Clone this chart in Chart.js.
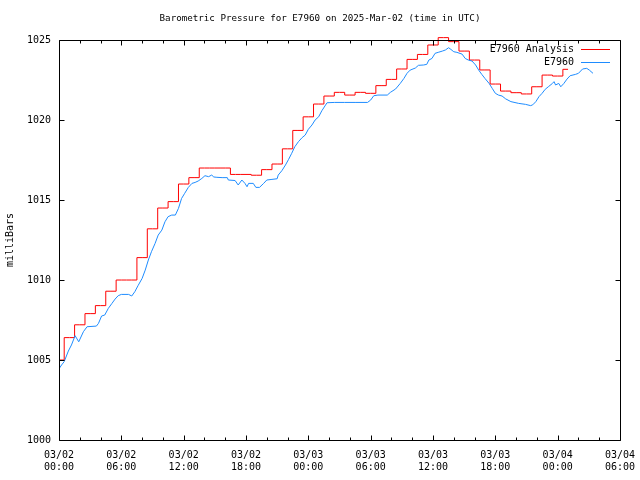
<!DOCTYPE html>
<html>
<head>
<meta charset="utf-8">
<title>Barometric Pressure for E7960</title>
<script src="https://cdn.jsdelivr.net/npm/chart.js@4.4.1/dist/chart.umd.min.js"></script>
<style>
    body { margin: 0; background: #fff; }
    #wrap { width: 640px; height: 480px; }
</style>
</head>
<body>
<div id="wrap"><canvas id="pressureChart" width="640" height="480"></canvas></div>
<script>
// hours since 2025-03-02 00:00 UTC
const analysisHours = [0, 1, 2, 3, 4, 5, 6, 7, 8, 9,
    10, 11, 12, 13, 14, 15, 16, 17, 18, 19,
    20, 21, 22, 23, 24, 25, 26, 27, 28, 29,
    30, 31, 32, 33, 34, 35, 36, 37, 38, 39,
    40, 41, 42, 43, 44, 45, 46, 47, 48, 49];
const analysisPressure = [1005.0, 1006.4, 1007.2, 1007.9, 1008.4, 1009.3, 1010.0, 1010.0, 1011.4, 1013.2,
    1014.5, 1014.9, 1016.0, 1016.4, 1017.0, 1017.0, 1017.0, 1016.6, 1016.6, 1016.55,
    1016.9, 1017.25, 1018.2, 1019.35, 1020.2, 1021.0, 1021.5, 1021.73, 1021.56, 1021.73,
    1021.67, 1022.15, 1022.54, 1023.19, 1023.79, 1024.1, 1024.69, 1025.15, 1024.9, 1024.31,
    1023.75, 1023.13, 1022.25, 1021.81, 1021.71, 1021.63, 1022.08, 1022.81, 1022.75, 1023.17];

const obsHours = [0.0, 0.25, 0.5, 0.9, 1.2, 1.55, 1.9, 2.35, 2.7, 3.6,
    3.8, 4.1, 4.4, 4.75, 5.1, 5.4, 5.7, 6.0, 6.7, 7.0,
    7.3, 7.6, 8.0, 8.3, 8.6, 8.9, 9.25, 9.55, 9.9, 10.2,
    10.5, 10.85, 11.2, 11.5, 11.8, 12.1, 12.45, 12.8, 13.1, 13.4,
    13.75, 14.05, 14.4, 14.7, 14.9, 15.2, 15.7, 16.2, 16.3, 16.95,
    17.25, 17.6, 17.9, 18.1, 18.25, 18.7, 18.95, 19.3, 19.7, 20.0,
    20.5, 21.0, 21.1, 21.45, 21.8, 22.1, 22.4, 22.7, 23.05, 23.4,
    23.7, 24.0, 24.35, 24.65, 25.0, 25.3, 25.6, 25.8, 26.5, 27.5,
    28.5, 29.7, 30.0, 30.3, 30.7, 31.6, 31.9, 32.4, 32.85, 33.2,
    33.5, 33.8, 34.3, 34.6, 35.1, 35.4, 35.6, 35.9, 36.2, 36.5,
    36.9, 37.2, 37.5, 37.65, 38.0, 38.3, 38.8, 39.1, 39.4, 39.75,
    40.1, 40.4, 40.7, 41.0, 41.4, 41.7, 42.0, 42.3, 42.65, 43.0,
    43.5, 44.25, 44.9, 45.4, 45.6, 45.9, 46.2, 46.5, 46.8, 47.1,
    47.5, 47.65, 47.8, 48.1, 48.3, 48.6, 48.9, 49.2, 49.7, 50.0,
    50.4, 50.8, 51.05, 51.4];
const obsPressure = [1004.45, 1004.69, 1004.9, 1005.56, 1005.94, 1006.52, 1006.14, 1006.77, 1007.08, 1007.12,
    1007.29, 1007.75, 1007.81, 1008.23, 1008.54, 1008.81, 1009.02, 1009.1, 1009.1, 1009.0,
    1009.27, 1009.64, 1010.1, 1010.62, 1011.25, 1011.77, 1012.29, 1012.81, 1013.12, 1013.64,
    1013.96, 1014.06, 1014.06, 1014.48, 1015.1, 1015.42, 1015.79, 1016.04, 1016.1, 1016.19,
    1016.35, 1016.52, 1016.46, 1016.56, 1016.44, 1016.42, 1016.4, 1016.4, 1016.25, 1016.22,
    1015.94, 1016.25, 1016.04, 1015.83, 1016.04, 1016.04, 1015.79, 1015.79, 1016.04, 1016.25,
    1016.29, 1016.33, 1016.56, 1016.83, 1017.19, 1017.54, 1017.92, 1018.33, 1018.65, 1018.9,
    1019.06, 1019.42, 1019.69, 1020.0, 1020.21, 1020.58, 1020.88, 1021.08, 1021.1, 1021.1,
    1021.1, 1021.1, 1021.25, 1021.52, 1021.56, 1021.56, 1021.73, 1021.94, 1022.29, 1022.6,
    1022.92, 1023.12, 1023.25, 1023.42, 1023.44, 1023.48, 1023.75, 1023.85, 1024.17, 1024.23,
    1024.31, 1024.38, 1024.52, 1024.45, 1024.27, 1024.23, 1024.12, 1023.85, 1023.75, 1023.69,
    1023.44, 1023.12, 1022.85, 1022.6, 1022.29, 1021.98, 1021.67, 1021.56, 1021.5, 1021.32,
    1021.15, 1021.04, 1020.98, 1020.9, 1020.95, 1021.15, 1021.46, 1021.67, 1021.92, 1022.08,
    1022.29, 1022.4, 1022.19, 1022.29, 1022.08, 1022.29, 1022.56, 1022.77, 1022.85, 1022.92,
    1023.19, 1023.23, 1023.12, 1022.92];

// x tick labels, every 6 hours
const xLabelHours = [0, 6, 12, 18, 24, 30, 36, 42, 48, 54];
const xLabelDates = ['03/02', '03/02', '03/02', '03/02', '03/03', '03/03', '03/03', '03/03', '03/04', '03/04'];
const xLabelTimes = ['00:00', '06:00', '12:00', '18:00', '00:00', '06:00', '12:00', '18:00', '00:00', '06:00'];
const yTickValues = [1000, 1005, 1010, 1015, 1020, 1025];

const FONT = '"DejaVu Sans Mono", "Liberation Mono", monospace';

// gnuplot style frame with inward ticks on all four sides
const framePlugin = {
    id: 'gnuFrame',
    afterDatasetsDraw(chart) {
        const { ctx, chartArea: a } = chart;
        const xs = chart.scales.x;
        const ys = chart.scales.y;
        const L = Math.round(a.left) + 0.5, R = Math.round(a.right) + 0.5;
        const T = Math.round(a.top) + 0.5, B = Math.round(a.bottom) + 0.5;
        ctx.save();
        ctx.strokeStyle = '#000';
        ctx.lineWidth = 1;
        ctx.beginPath();
        ctx.rect(L, T, R - L, B - T);
        for (let h = 0; h <= 54; h += 2) {
            const px = Math.round(xs.getPixelForValue(h)) + 0.5;
            const len = h % 6 === 0 ? 5 : 3;
            ctx.moveTo(px, B); ctx.lineTo(px, B - len);
            ctx.moveTo(px, T); ctx.lineTo(px, T + len);
        }
        yTickValues.forEach(v => {
            const py = Math.round(ys.getPixelForValue(v)) + 0.5;
            ctx.moveTo(L, py); ctx.lineTo(L + 5, py);
            ctx.moveTo(R, py); ctx.lineTo(R - 5, py);
        });
        ctx.stroke();
        ctx.restore();
    }
};

// key in the top right corner: text first, then the line sample
const keyPlugin = {
    id: 'gnuKey',
    afterDraw(chart) {
        const { ctx, chartArea: a } = chart;
        ctx.save();
        ctx.font = '10px ' + FONT;
        ctx.textAlign = 'right';
        ctx.textBaseline = 'middle';
        chart.data.datasets.forEach((ds, i) => {
            const y = Math.round(a.top + 9 + i * 13) + 0.5;
            ctx.fillStyle = '#000';
            ctx.fillText(ds.label, a.right - 46, y);
            ctx.strokeStyle = ds.borderColor;
            ctx.lineWidth = 1;
            ctx.beginPath();
            ctx.moveTo(a.right - 39, y);
            ctx.lineTo(a.right - 10, y);
            ctx.stroke();
        });
        ctx.restore();
    }
};

Chart.defaults.font.family = FONT;
Chart.defaults.font.size = 10;
Chart.defaults.color = '#000';

const ctx = document.getElementById('pressureChart').getContext('2d');
const pressureChart = new Chart(ctx, {
    type: 'line',
    data: {
        datasets: [
            {
                label: 'E7960 Analysis',
                data: analysisHours.map((h, i) => ({ x: h, y: analysisPressure[i] })),
                borderColor: '#ff0000',
                borderWidth: 1,
                pointRadius: 0,
                stepped: 'middle',
                clip: 4,
                order: 1
            },
            {
                label: 'E7960',
                data: obsHours.map((h, i) => ({ x: h, y: obsPressure[i] })),
                borderColor: '#1e8cff',
                borderWidth: 1,
                pointRadius: 0,
                tension: 0,
                order: 0
            }
        ]
    },
    options: {
        responsive: false,
        animation: false,
        devicePixelRatio: 1,
        layout: { padding: 0 },
        plugins: {
            legend: { display: false },
            tooltip: { enabled: false },
            title: {
                display: true,
                text: 'Barometric Pressure for E7960 on 2025-Mar-02 (time in UTC)',
                font: { size: 9.2, weight: 'normal' },
                padding: { top: 13, bottom: 16 }
            }
        },
        scales: {
            x: {
                type: 'linear',
                min: 0,
                max: 54,
                grid: { display: false, drawTicks: false, tickLength: 0 },
                border: { display: false },
                afterFit: (scale) => {
                    scale.paddingLeft = 0;
                    scale.paddingRight = 20;
                    scale.height = 40;
                },
                ticks: {
                    stepSize: 2,
                    autoSkip: false,
                    maxRotation: 0,
                    minRotation: 0,
                    padding: 9,
                    callback: (v) => {
                        const k = xLabelHours.indexOf(v);
                        return k >= 0 ? [xLabelDates[k], xLabelTimes[k]] : '';
                    }
                }
            },
            y: {
                min: 1000,
                max: 1025,
                grid: { display: false, drawTicks: false, tickLength: 0 },
                border: { display: false },
                afterFit: (scale) => { scale.width = 59; },
                ticks: {
                    stepSize: 5,
                    padding: 8,
                    callback: (v) => yTickValues.includes(v) ? String(v) : ''
                },
                title: {
                    display: true,
                    text: 'milliBars',
                    padding: { top: 4, bottom: 4 }
                }
            }
        }
    },
    plugins: [framePlugin, keyPlugin]
});
</script>
</body>
</html>
